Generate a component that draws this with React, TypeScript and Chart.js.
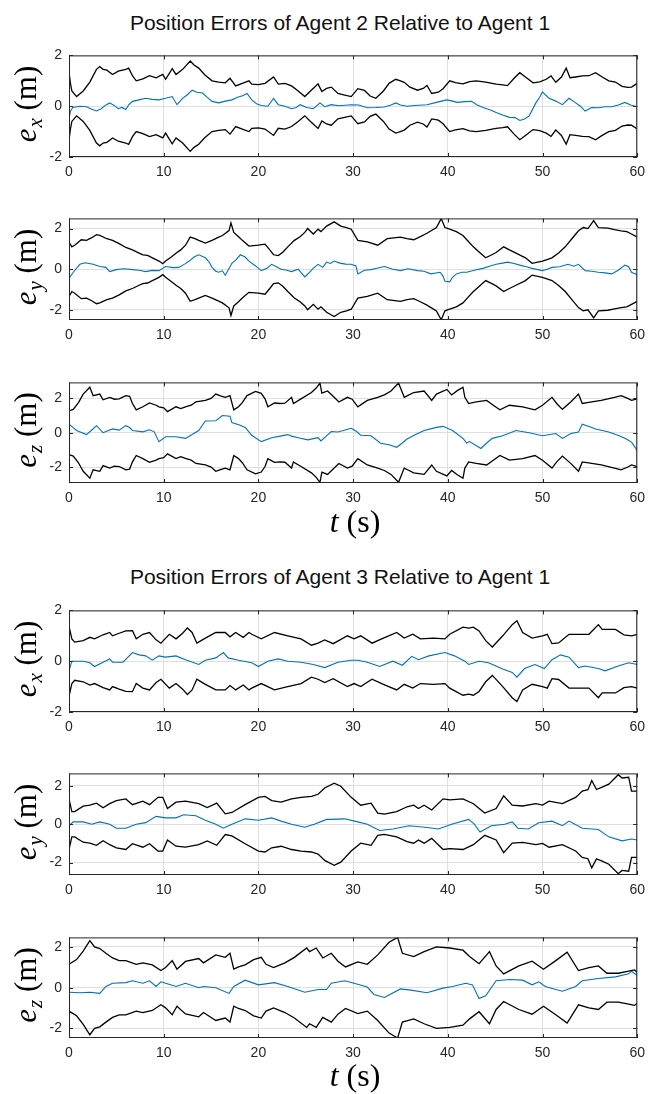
import React, { useEffect, useRef } from "react";
import { Chart, registerables } from "chart.js";

Chart.register(...registerables);

type Pts = [number, number][];

// ---------- tick labels & titles ----------
const X_TICKS = [0, 10, 20, 30, 40, 50, 60];
const Y_TICKS = [-2, 0, 2];
const TITLE_AGENT2 = "Position Errors of Agent 2 Relative to Agent 1";
const TITLE_AGENT3 = "Position Errors of Agent 3 Relative to Agent 1";

// ---------- Agent 2, e_x ----------
const A2X_UPPER: Pts = [[0,1.35],[0.15,0.9],[0.3,0.6],[0.8,0.38],[1.5,0.6],[2.2,0.95],[2.9,1.45],[3.25,1.56],[3.6,1.45],[4.0,1.42],[4.6,1.25],[5.2,1.38],[6.0,1.45],[6.3,1.5],[6.7,1.2],[7.1,1.0],[7.8,1.08],[8.5,1.2],[9.2,1.12],[9.9,1.25],[10.2,1.06],[10.9,1.48],[11.3,1.25],[12.0,1.45],[12.8,1.78],[13.2,1.62],[13.7,1.5],[14.3,1.25],[15.1,1.0],[15.8,0.95],[16.5,0.92],[17.0,1.1],[17.6,0.8],[18.3,0.9],[19.0,1.0],[19.3,0.87],[20.0,0.85],[20.7,0.9],[21.6,1.15],[22.1,0.87],[22.8,0.9],[23.5,0.8],[24.2,0.6],[24.9,0.38],[25.5,0.6],[26.3,0.88],[26.7,0.58],[27.2,0.7],[27.7,0.75],[28.4,0.5],[29.0,0.45],[29.8,0.38],[30.5,0.69],[31.2,0.62],[31.8,0.4],[32.4,0.31],[33.2,0.6],[33.8,0.9],[34.5,1.06],[35.0,1.0],[35.4,0.94],[36.0,0.75],[36.8,0.63],[37.4,0.7],[37.8,0.82],[38.3,0.5],[39.0,0.55],[39.5,0.69],[40.2,1.0],[40.8,0.93],[41.6,0.88],[42.3,0.97],[43.0,1.0],[44.0,0.95],[45.1,0.87],[45.8,0.84],[46.3,0.81],[47.0,1.1],[47.6,1.32],[48.2,1.15],[49.0,0.92],[49.7,0.96],[50.4,1.06],[50.9,1.19],[51.4,0.94],[52.0,1.15],[52.5,1.5],[52.9,1.12],[53.5,1.15],[54.2,1.19],[54.9,1.2],[55.6,1.32],[56.3,1.15],[57.0,1.0],[57.7,0.95],[58.4,0.78],[59.0,0.74],[59.4,0.75],[60.0,0.9]];
const A2X_LOWER: Pts = [[0,-1.35],[0.15,-0.9],[0.3,-0.6],[0.8,-0.38],[1.5,-0.6],[2.2,-0.95],[2.9,-1.45],[3.25,-1.56],[3.6,-1.45],[4.0,-1.42],[4.6,-1.25],[5.2,-1.38],[6.0,-1.45],[6.3,-1.5],[6.7,-1.2],[7.1,-1.0],[7.8,-1.08],[8.5,-1.2],[9.2,-1.12],[9.9,-1.25],[10.2,-1.06],[10.9,-1.48],[11.3,-1.25],[12.0,-1.45],[12.8,-1.78],[13.2,-1.62],[13.7,-1.5],[14.3,-1.25],[15.1,-1.0],[15.8,-0.95],[16.5,-0.92],[17.0,-1.1],[17.6,-0.8],[18.3,-0.9],[19.0,-1.0],[19.3,-0.87],[20.0,-0.85],[20.7,-0.9],[21.6,-1.15],[22.1,-0.87],[22.8,-0.9],[23.5,-0.8],[24.2,-0.6],[24.9,-0.38],[25.5,-0.6],[26.3,-0.88],[26.7,-0.58],[27.2,-0.7],[27.7,-0.75],[28.4,-0.5],[29.0,-0.45],[29.8,-0.38],[30.5,-0.69],[31.2,-0.62],[31.8,-0.4],[32.4,-0.31],[33.2,-0.6],[33.8,-0.9],[34.5,-1.06],[35.0,-1.0],[35.4,-0.94],[36.0,-0.75],[36.8,-0.63],[37.4,-0.7],[37.8,-0.82],[38.3,-0.5],[39.0,-0.55],[39.5,-0.69],[40.2,-1.0],[40.8,-0.93],[41.6,-0.88],[42.3,-0.97],[43.0,-1.0],[44.0,-0.95],[45.1,-0.87],[45.8,-0.84],[46.3,-0.81],[47.0,-1.1],[47.6,-1.32],[48.2,-1.15],[49.0,-0.92],[49.7,-0.96],[50.4,-1.06],[50.9,-1.19],[51.4,-0.94],[52.0,-1.15],[52.5,-1.5],[52.9,-1.12],[53.5,-1.15],[54.2,-1.19],[54.9,-1.2],[55.6,-1.32],[56.3,-1.15],[57.0,-1.0],[57.7,-0.95],[58.4,-0.78],[59.0,-0.74],[59.4,-0.75],[60.0,-0.9]];
const A2X_ERR: Pts = [[0,-0.5],[0.15,-0.2],[0.4,-0.05],[1.15,0],[1.85,-0.02],[2.4,-0.12],[2.9,-0.19],[3.4,-0.1],[3.9,0.05],[4.3,0.13],[4.8,0.02],[5.2,-0.1],[5.6,-0.05],[6.0,-0.13],[6.3,0.05],[6.7,0.19],[7.4,0.25],[8.1,0.31],[8.8,0.27],[9.5,0.25],[10.2,0.31],[10.9,0.38],[11.4,0.06],[12.0,0.31],[12.5,0.45],[13.0,0.63],[13.5,0.55],[14.1,0.52],[14.6,0.35],[15.1,0.19],[15.8,0.13],[16.5,0.2],[17.2,0.25],[17.8,0.35],[18.4,0.42],[18.8,0.5],[19.3,0.25],[19.8,0.1],[20.3,0.03],[21.0,0.0],[21.6,0.31],[22.1,0.06],[22.8,0.0],[23.5,-0.1],[24.0,-0.05],[24.4,0.06],[25.1,-0.05],[25.8,-0.1],[26.5,0.13],[27.0,-0.02],[27.7,0.06],[28.5,0.02],[29.8,0.06],[30.6,0.05],[31.5,-0.06],[32.4,-0.05],[33.3,-0.03],[34.0,0.05],[34.5,0.13],[35.0,0.05],[35.7,0.0],[36.5,0.03],[37.8,0.06],[38.8,0.15],[39.9,0.25],[40.5,0.2],[41.0,0.15],[41.8,0.18],[42.5,0.19],[43.1,0.05],[43.8,-0.06],[44.5,-0.15],[45.1,-0.25],[45.8,-0.35],[46.5,-0.44],[47.1,-0.45],[47.6,-0.56],[48.1,-0.5],[48.6,-0.38],[49.3,0.13],[49.7,0.35],[50.0,0.56],[50.3,0.45],[50.7,0.31],[51.4,0.2],[52.1,0.06],[52.8,0.31],[53.5,0.13],[54.0,0.0],[54.5,-0.19],[55.2,-0.05],[55.9,-0.06],[56.6,-0.02],[57.3,-0.02],[58.0,0.05],[58.7,0.15],[59.3,0.05],[60.0,-0.02]];

// ---------- Agent 2, e_y ----------
const A2Y_UPPER: Pts = [[0,1.34],[0.3,1.1],[0.6,1.18],[1.3,1.45],[1.85,1.42],[2.4,1.55],[2.9,1.7],[3.25,1.66],[4.0,1.5],[4.6,1.42],[5.3,1.26],[6.0,1.07],[6.7,0.95],[7.4,0.79],[7.8,0.71],[8.3,0.68],[8.8,0.56],[9.5,0.4],[9.9,0.27],[10.2,0.4],[10.8,0.6],[11.3,0.79],[11.8,0.95],[12.3,1.18],[12.8,1.58],[13.3,1.5],[13.7,1.42],[14.4,1.29],[15.1,1.42],[15.7,1.55],[16.2,1.66],[16.9,1.9],[17.1,2.28],[17.4,1.81],[17.9,1.6],[18.3,1.42],[19.0,1.14],[20.0,1.18],[20.7,1.23],[21.2,0.95],[21.6,0.71],[22.1,0.67],[22.6,0.85],[23.1,1.1],[23.8,1.42],[24.4,1.6],[24.9,1.81],[25.2,2.0],[25.8,1.73],[26.3,1.97],[26.6,1.85],[27.2,2.12],[28.0,2.33],[28.7,2.12],[29.3,2.05],[29.8,1.97],[30.5,1.42],[31.5,1.34],[32.6,1.18],[33.6,1.5],[35.0,1.58],[35.7,1.5],[36.4,1.45],[37.1,1.6],[37.8,1.77],[38.8,2.05],[39.3,2.49],[39.7,2.05],[40.2,1.97],[40.9,1.85],[41.6,1.66],[42.1,1.4],[42.7,1.1],[43.3,0.85],[44.0,0.56],[44.6,0.7],[45.1,0.82],[45.9,1.1],[46.5,0.95],[47.2,0.79],[48.2,0.56],[48.9,0.29],[50.0,0.4],[51.0,0.56],[51.7,0.8],[52.4,1.1],[53.1,1.5],[53.8,1.89],[54.3,2.05],[54.8,2.0],[55.4,2.39],[55.9,2.05],[56.9,2.02],[57.6,1.95],[58.3,1.89],[58.9,1.85],[59.4,1.73],[60.0,1.58]];
const A2Y_LOWER: Pts = [[0,-1.34],[0.3,-1.1],[0.6,-1.18],[1.3,-1.45],[1.85,-1.42],[2.4,-1.55],[2.9,-1.7],[3.25,-1.66],[4.0,-1.5],[4.6,-1.42],[5.3,-1.26],[6.0,-1.07],[6.7,-0.95],[7.4,-0.79],[7.8,-0.71],[8.3,-0.68],[8.8,-0.56],[9.5,-0.4],[9.9,-0.27],[10.2,-0.4],[10.8,-0.6],[11.3,-0.79],[11.8,-0.95],[12.3,-1.18],[12.8,-1.58],[13.3,-1.5],[13.7,-1.42],[14.4,-1.29],[15.1,-1.42],[15.7,-1.55],[16.2,-1.66],[16.9,-1.9],[17.1,-2.28],[17.4,-1.81],[17.9,-1.6],[18.3,-1.42],[19.0,-1.14],[20.0,-1.18],[20.7,-1.23],[21.2,-0.95],[21.6,-0.71],[22.1,-0.67],[22.6,-0.85],[23.1,-1.1],[23.8,-1.42],[24.4,-1.6],[24.9,-1.81],[25.2,-2.0],[25.8,-1.73],[26.3,-1.97],[26.6,-1.85],[27.2,-2.12],[28.0,-2.33],[28.7,-2.12],[29.3,-2.05],[29.8,-1.97],[30.5,-1.42],[31.5,-1.34],[32.6,-1.18],[33.6,-1.5],[35.0,-1.58],[35.7,-1.5],[36.4,-1.45],[37.1,-1.6],[37.8,-1.77],[38.8,-2.05],[39.3,-2.49],[39.7,-2.05],[40.2,-1.97],[40.9,-1.85],[41.6,-1.66],[42.1,-1.4],[42.7,-1.1],[43.3,-0.85],[44.0,-0.56],[44.6,-0.7],[45.1,-0.82],[45.9,-1.1],[46.5,-0.95],[47.2,-0.79],[48.2,-0.56],[48.9,-0.29],[50.0,-0.4],[51.0,-0.56],[51.7,-0.8],[52.4,-1.1],[53.1,-1.5],[53.8,-1.89],[54.3,-2.05],[54.8,-2.0],[55.4,-2.39],[55.9,-2.05],[56.9,-2.02],[57.6,-1.95],[58.3,-1.89],[58.9,-1.85],[59.4,-1.73],[60.0,-1.58]];
const A2Y_ERR: Pts = [[0,-0.46],[0.45,-0.15],[1.15,0.24],[1.7,0.32],[2.55,0.24],[3.25,0.13],[3.9,0.09],[4.3,-0.12],[5.0,-0.02],[5.8,0.02],[6.7,-0.02],[7.4,-0.05],[8.1,-0.12],[8.8,-0.06],[9.5,-0.07],[10.2,0.13],[11.0,0.08],[11.6,0.09],[12.2,0.25],[12.7,0.4],[13.2,0.6],[13.7,0.71],[14.4,0.56],[14.8,0.35],[15.1,0.09],[15.5,-0.1],[15.8,-0.15],[16.2,-0.08],[16.5,-0.3],[16.8,-0.05],[17.2,0.29],[17.6,0.45],[18.1,0.71],[18.6,0.6],[19.0,0.4],[19.7,0.16],[20.3,-0.07],[20.9,0.05],[21.4,0.24],[22.0,0.1],[22.4,0.0],[23.0,-0.05],[23.5,-0.12],[24.2,0.0],[24.9,-0.38],[25.3,-0.2],[25.8,0.05],[26.3,0.24],[26.8,0.09],[27.2,0.35],[27.6,0.28],[28.0,0.4],[28.6,0.3],[29.2,0.25],[29.8,0.24],[30.3,0.16],[30.5,-0.23],[31.2,-0.05],[31.9,-0.02],[32.5,0.05],[33.3,0.13],[34.2,0.0],[35.0,-0.07],[35.8,0.02],[36.8,-0.07],[37.5,-0.1],[38.2,-0.23],[39.2,-0.15],[39.5,-0.35],[39.7,-0.59],[40.2,-0.62],[40.5,-0.4],[40.9,-0.23],[41.5,-0.15],[42.0,-0.15],[42.8,-0.05],[43.7,0.04],[44.4,0.15],[45.1,0.24],[45.8,0.3],[46.3,0.35],[47.0,0.28],[47.6,0.2],[48.3,0.12],[48.9,0.04],[50.0,-0.07],[50.5,0.0],[51.0,0.09],[51.8,0.12],[52.7,0.24],[53.3,0.15],[53.8,0.24],[54.5,-0.07],[55.2,-0.1],[55.9,-0.15],[56.6,-0.18],[57.3,-0.23],[58.0,-0.05],[58.7,0.2],[59.1,0.12],[59.4,-0.15],[60.0,-0.27]];

// ---------- Agent 2, e_z ----------
const A2Z_UPPER: Pts = [[0,1.27],[0.45,1.36],[1.0,1.75],[1.5,2.25],[2.2,2.65],[2.55,2.16],[3.25,2.25],[3.6,1.92],[4.3,2.06],[4.8,1.95],[5.3,1.97],[6.0,2.16],[6.4,2.12],[6.7,1.7],[7.1,1.33],[7.8,1.51],[8.5,1.73],[9.2,1.6],[9.5,1.51],[10.0,1.45],[10.4,1.23],[11.3,1.51],[11.8,1.4],[12.3,1.5],[12.9,1.6],[13.4,1.79],[14.4,1.88],[15.0,2.0],[15.5,2.25],[16.0,2.15],[16.5,2.06],[17.0,2.16],[17.4,1.33],[17.9,1.51],[18.3,1.75],[18.8,2.16],[19.7,2.4],[20.3,2.29],[20.7,1.97],[21.0,1.51],[21.7,1.73],[22.3,1.7],[22.8,1.72],[23.5,2.06],[23.7,1.7],[24.5,1.97],[25.6,2.34],[26.1,2.6],[26.5,2.89],[26.7,2.3],[27.3,2.43],[28.0,2.06],[28.5,1.79],[29.4,2.06],[29.9,1.95],[30.5,1.51],[31.5,1.88],[32.6,2.06],[33.3,2.2],[34.0,2.43],[34.8,2.89],[35.4,2.06],[35.9,2.2],[36.4,2.34],[37.5,2.43],[38.3,1.88],[38.8,2.25],[39.9,2.52],[40.4,2.2],[41.0,2.45],[41.6,2.65],[41.8,2.06],[42.2,1.7],[43.0,1.79],[44.1,1.88],[44.8,1.6],[45.5,1.33],[46.5,1.6],[47.9,1.51],[49.2,1.33],[50.0,1.6],[51.0,2.06],[51.5,1.7],[52.1,1.36],[53.0,1.8],[53.8,2.25],[54.2,1.7],[55.2,1.79],[56.2,1.88],[57.6,2.06],[58.3,2.16],[59.0,2.0],[59.4,1.88],[60.0,1.97]];
const A2Z_LOWER: Pts = [[0,-1.27],[0.45,-1.36],[1.0,-1.75],[1.5,-2.25],[2.2,-2.65],[2.55,-2.16],[3.25,-2.25],[3.6,-1.92],[4.3,-2.06],[4.8,-1.95],[5.3,-1.97],[6.0,-2.16],[6.4,-2.12],[6.7,-1.7],[7.1,-1.33],[7.8,-1.51],[8.5,-1.73],[9.2,-1.6],[9.5,-1.51],[10.0,-1.45],[10.4,-1.23],[11.3,-1.51],[11.8,-1.4],[12.3,-1.5],[12.9,-1.6],[13.4,-1.79],[14.4,-1.88],[15.0,-2.0],[15.5,-2.25],[16.0,-2.15],[16.5,-2.06],[17.0,-2.16],[17.4,-1.33],[17.9,-1.51],[18.3,-1.75],[18.8,-2.16],[19.7,-2.4],[20.3,-2.29],[20.7,-1.97],[21.0,-1.51],[21.7,-1.73],[22.3,-1.7],[22.8,-1.72],[23.5,-2.06],[23.7,-1.7],[24.5,-1.97],[25.6,-2.34],[26.1,-2.6],[26.5,-2.89],[26.7,-2.3],[27.3,-2.43],[28.0,-2.06],[28.5,-1.79],[29.4,-2.06],[29.9,-1.95],[30.5,-1.51],[31.5,-1.88],[32.6,-2.06],[33.3,-2.2],[34.0,-2.43],[34.8,-2.89],[35.4,-2.06],[35.9,-2.2],[36.4,-2.34],[37.5,-2.43],[38.3,-1.88],[38.8,-2.25],[39.9,-2.52],[40.4,-2.2],[41.0,-2.45],[41.6,-2.65],[41.8,-2.06],[42.2,-1.7],[43.0,-1.79],[44.1,-1.88],[44.8,-1.6],[45.5,-1.33],[46.5,-1.6],[47.9,-1.51],[49.2,-1.33],[50.0,-1.6],[51.0,-2.06],[51.5,-1.7],[52.1,-1.36],[53.0,-1.8],[53.8,-2.25],[54.2,-1.7],[55.2,-1.79],[56.2,-1.88],[57.6,-2.06],[58.3,-2.16],[59.0,-2.0],[59.4,-1.88],[60.0,-1.97]];
const A2Z_ERR: Pts = [[0,0.5],[0.8,0.13],[1.85,-0.11],[2.5,0.2],[2.9,0.41],[3.6,0.0],[4.6,0.22],[5.3,0.15],[6.0,0.41],[6.4,0.3],[6.7,0.13],[7.8,0.05],[8.5,0.17],[9.0,0.05],[9.5,-0.52],[10.2,-0.24],[11.3,-0.24],[12.3,-0.33],[13.0,-0.1],[13.7,0.13],[14.4,0.68],[15.5,0.7],[16.2,1.0],[17.0,0.96],[17.2,0.59],[18.0,0.45],[18.6,0.31],[19.3,-0.15],[20.3,-0.52],[21.4,-0.29],[22.3,-0.2],[23.1,-0.11],[23.5,-0.2],[24.2,-0.29],[25.2,-0.42],[26.3,-0.29],[26.6,-0.48],[27.7,0.07],[28.4,0.04],[29.8,0.26],[30.3,0.1],[30.8,-0.15],[31.9,-0.18],[32.9,-0.61],[33.8,-0.7],[34.6,-0.85],[35.2,-0.6],[35.7,-0.37],[36.6,-0.1],[37.5,0.13],[38.8,0.31],[39.5,0.37],[40.5,0.13],[41.6,-0.33],[42.0,-0.6],[42.3,-0.52],[43.5,-0.92],[44.1,-0.6],[44.7,-0.33],[45.8,-0.18],[47.2,0.13],[48.6,0.0],[50.0,-0.18],[51.4,-0.05],[52.1,-0.33],[53.0,-0.05],[53.8,0.04],[54.2,0.5],[55.0,0.35],[55.6,0.22],[57.0,0.04],[58.1,-0.18],[58.8,-0.35],[59.4,-0.55],[60.0,-1.03]];

// ---------- Agent 3, e_x ----------
const A3X_UPPER: Pts = [[0,1.38],[0.3,0.88],[0.6,0.75],[1.5,0.81],[2.2,0.94],[2.7,0.88],[3.6,1.04],[4.3,1.13],[4.6,1.0],[5.3,1.1],[6.0,1.19],[6.7,1.2],[7.1,0.88],[7.8,1.06],[8.5,1.13],[9.2,0.84],[9.7,0.71],[10.6,1.06],[11.3,0.88],[12.0,1.1],[12.5,1.31],[13.0,1.13],[13.5,0.71],[14.4,0.91],[15.5,1.13],[16.5,1.13],[17.0,0.96],[17.6,1.13],[18.4,0.94],[19.0,1.13],[19.3,1.06],[20.3,0.88],[21.7,1.13],[23.1,1.0],[24.5,0.88],[25.6,0.63],[26.3,0.71],[27.0,0.84],[27.9,0.69],[29.4,1.0],[30.1,0.88],[30.8,1.0],[32.0,0.71],[33.2,0.91],[34.6,1.13],[35.4,0.91],[36.3,1.06],[37.1,0.88],[38.5,0.91],[39.7,0.88],[40.2,1.06],[41.6,1.34],[42.2,1.3],[42.7,1.34],[43.3,1.19],[44.0,0.81],[44.7,0.56],[45.8,1.0],[46.8,1.44],[47.3,1.59],[47.9,1.13],[48.9,0.91],[50.0,1.0],[50.5,1.06],[51.0,0.69],[51.7,0.72],[52.8,1.06],[54.9,1.06],[55.9,1.44],[56.3,1.25],[57.7,1.25],[58.6,1.04],[59.4,1.0],[60.0,1.06]];
const A3X_LOWER: Pts = [[0,-1.38],[0.3,-0.88],[0.6,-0.75],[1.5,-0.81],[2.2,-0.94],[2.7,-0.88],[3.6,-1.04],[4.3,-1.13],[4.6,-1.0],[5.3,-1.1],[6.0,-1.19],[6.7,-1.2],[7.1,-0.88],[7.8,-1.06],[8.5,-1.13],[9.2,-0.84],[9.7,-0.71],[10.6,-1.06],[11.3,-0.88],[12.0,-1.1],[12.5,-1.31],[13.0,-1.13],[13.5,-0.71],[14.4,-0.91],[15.5,-1.13],[16.5,-1.13],[17.0,-0.96],[17.6,-1.13],[18.4,-0.94],[19.0,-1.13],[19.3,-1.06],[20.3,-0.88],[21.7,-1.13],[23.1,-1.0],[24.5,-0.88],[25.6,-0.63],[26.3,-0.71],[27.0,-0.84],[27.9,-0.69],[29.4,-1.0],[30.1,-0.88],[30.8,-1.0],[32.0,-0.71],[33.2,-0.91],[34.6,-1.13],[35.4,-0.91],[36.3,-1.06],[37.1,-0.88],[38.5,-0.91],[39.7,-0.88],[40.2,-1.06],[41.6,-1.34],[42.2,-1.3],[42.7,-1.34],[43.3,-1.19],[44.0,-0.81],[44.7,-0.56],[45.8,-1.0],[46.8,-1.44],[47.3,-1.59],[47.9,-1.13],[48.9,-0.91],[50.0,-1.0],[50.5,-1.06],[51.0,-0.69],[51.7,-0.72],[52.8,-1.06],[54.9,-1.06],[55.9,-1.44],[56.3,-1.25],[57.7,-1.25],[58.6,-1.04],[59.4,-1.0],[60.0,-1.06]];
const A3X_ERR: Pts = [[0,-0.38],[0.3,0.0],[1.5,0.0],[2.2,-0.06],[2.7,-0.21],[3.6,-0.04],[4.3,0.09],[4.6,-0.04],[5.7,-0.04],[6.7,0.34],[7.4,0.25],[8.1,0.21],[8.8,0.04],[9.5,0.21],[10.2,0.16],[11.3,0.21],[12.3,0.06],[13.7,-0.13],[14.4,0.04],[15.5,0.13],[16.3,0.34],[16.8,0.13],[17.9,0.04],[19.3,-0.06],[20.0,-0.21],[21.0,0.0],[22.1,0.09],[23.1,0.0],[24.5,-0.04],[25.8,-0.13],[27.0,-0.25],[28.4,-0.04],[29.8,0.04],[30.5,0.04],[31.5,-0.04],[32.8,-0.21],[34.2,0.0],[35.2,-0.16],[36.2,0.19],[36.9,0.06],[38.0,0.21],[39.7,0.34],[40.7,0.21],[41.8,0.0],[42.2,-0.13],[43.3,0.0],[44.3,-0.06],[45.8,-0.31],[46.8,-0.44],[47.3,-0.63],[48.1,-0.29],[49.2,-0.13],[50.2,-0.29],[51.0,0.06],[51.9,0.25],[52.8,0.16],[53.8,-0.25],[54.5,-0.19],[55.9,-0.29],[56.6,-0.38],[58.0,-0.19],[59.1,-0.06],[60.0,-0.13]];

// ---------- Agent 3, e_y ----------
const A3Y_UPPER: Pts = [[0,1.32],[0.3,0.66],[0.6,0.66],[1.5,0.94],[2.2,0.99],[2.9,1.1],[3.6,0.86],[4.3,1.07],[5.0,1.23],[6.0,1.32],[6.7,1.02],[7.8,1.2],[8.5,1.02],[9.4,1.4],[9.9,1.4],[10.4,0.82],[11.3,1.15],[12.3,1.2],[13.7,1.07],[14.6,0.87],[15.6,1.1],[16.5,0.54],[17.2,0.61],[18.6,1.02],[20.0,1.4],[20.7,1.45],[21.4,1.23],[22.4,1.15],[23.5,1.32],[24.5,1.4],[25.6,1.45],[26.3,1.56],[27.0,1.89],[28.0,2.14],[28.7,1.98],[29.8,1.4],[30.8,0.99],[31.9,1.1],[32.6,0.58],[33.3,0.53],[34.6,0.66],[35.7,0.91],[36.4,0.99],[36.9,0.82],[37.5,0.99],[38.3,0.74],[39.5,1.32],[40.2,1.27],[41.6,1.32],[42.7,1.07],[43.9,0.58],[45.1,0.82],[45.9,1.48],[46.8,0.99],[47.9,0.95],[49.3,1.07],[50.0,1.0],[50.7,1.2],[52.1,1.07],[53.5,1.4],[54.2,1.73],[54.8,1.8],[55.2,2.28],[55.7,1.81],[56.3,1.93],[57.0,2.09],[58.0,2.58],[58.4,2.41],[59.1,2.45],[59.4,1.73],[60.0,1.73]];
const A3Y_LOWER: Pts = [[0,-1.32],[0.3,-0.66],[0.6,-0.66],[1.5,-0.94],[2.2,-0.99],[2.9,-1.1],[3.6,-0.86],[4.3,-1.07],[5.0,-1.23],[6.0,-1.32],[6.7,-1.02],[7.8,-1.2],[8.5,-1.02],[9.4,-1.4],[9.9,-1.4],[10.4,-0.82],[11.3,-1.15],[12.3,-1.2],[13.7,-1.07],[14.6,-0.87],[15.6,-1.1],[16.5,-0.54],[17.2,-0.61],[18.6,-1.02],[20.0,-1.4],[20.7,-1.45],[21.4,-1.23],[22.4,-1.15],[23.5,-1.32],[24.5,-1.4],[25.6,-1.45],[26.3,-1.56],[27.0,-1.89],[28.0,-2.14],[28.7,-1.98],[29.8,-1.4],[30.8,-0.99],[31.9,-1.1],[32.6,-0.58],[33.3,-0.53],[34.6,-0.66],[35.7,-0.91],[36.4,-0.99],[36.9,-0.82],[37.5,-0.99],[38.3,-0.74],[39.5,-1.32],[40.2,-1.27],[41.6,-1.32],[42.7,-1.07],[43.9,-0.58],[45.1,-0.82],[45.9,-1.48],[46.8,-0.99],[47.9,-0.95],[49.3,-1.07],[50.0,-1.0],[50.7,-1.2],[52.1,-1.07],[53.5,-1.4],[54.2,-1.73],[54.8,-1.8],[55.2,-2.28],[55.7,-1.81],[56.3,-1.93],[57.0,-2.09],[58.0,-2.58],[58.4,-2.41],[59.1,-2.45],[59.4,-1.73],[60.0,-1.73]];
const A3Y_ERR: Pts = [[0,-0.08],[0.45,0.12],[1.5,0.12],[2.4,0.0],[3.25,0.12],[4.3,0.0],[5.0,-0.21],[6.0,-0.21],[7.1,0.0],[8.1,0.08],[9.2,0.41],[10.2,0.33],[11.3,0.33],[12.1,0.49],[13.4,0.44],[14.4,0.21],[15.5,0.0],[16.3,-0.21],[17.2,0.0],[18.6,0.28],[20.0,0.21],[21.4,0.33],[22.4,0.16],[23.5,0.0],[24.9,-0.16],[25.9,0.0],[27.2,0.25],[27.7,0.25],[29.1,0.28],[30.5,0.12],[31.5,0.0],[32.8,-0.33],[34.2,-0.25],[35.9,-0.08],[37.6,-0.16],[39.0,-0.25],[40.4,0.0],[42.2,0.25],[42.8,0.0],[43.4,-0.41],[44.6,-0.08],[46.0,0.0],[46.8,0.12],[47.4,-0.21],[48.5,-0.25],[49.6,0.08],[51.0,0.16],[52.1,-0.08],[52.8,0.16],[54.2,-0.21],[55.9,-0.28],[57.0,-0.66],[58.4,-0.87],[59.4,-0.77],[60.0,-0.82]];

// ---------- Agent 3, e_z ----------
const A3Z_UPPER: Pts = [[0,1.15],[0.8,1.38],[1.5,1.8],[2.2,2.31],[2.7,2.0],[3.25,1.92],[3.9,1.69],[4.6,1.46],[5.3,1.33],[6.0,1.33],[7.1,1.15],[7.8,1.22],[8.8,1.12],[9.7,0.84],[10.2,0.99],[10.9,1.33],[11.4,0.91],[12.3,1.29],[13.7,1.43],[14.2,1.22],[15.5,1.61],[16.5,1.49],[17.0,1.69],[17.4,0.91],[17.9,1.02],[18.6,1.12],[19.5,1.38],[20.3,1.49],[20.8,1.15],[21.6,0.99],[22.8,1.22],[23.8,1.49],[25.1,1.95],[25.4,1.77],[26.1,1.95],[26.8,1.46],[27.7,1.69],[28.4,1.3],[29.2,1.02],[30.5,1.27],[31.5,1.15],[32.6,1.61],[33.8,2.23],[34.7,2.47],[35.2,1.69],[36.4,1.53],[37.5,1.77],[38.8,2.0],[40.2,1.95],[41.6,1.84],[42.3,1.53],[43.3,1.18],[44.4,1.77],[45.1,1.07],[45.9,0.68],[47.5,1.07],[48.9,1.3],[50.1,0.91],[51.4,1.33],[52.6,1.74],[53.8,0.84],[54.9,0.99],[55.9,1.07],[56.8,0.71],[58.0,0.71],[59.1,0.81],[59.7,0.87],[60.0,0.76]];
const A3Z_LOWER: Pts = [[0,-1.15],[0.8,-1.38],[1.5,-1.8],[2.2,-2.31],[2.7,-2.0],[3.25,-1.92],[3.9,-1.69],[4.6,-1.46],[5.3,-1.33],[6.0,-1.33],[7.1,-1.15],[7.8,-1.22],[8.8,-1.12],[9.7,-0.84],[10.2,-0.99],[10.9,-1.33],[11.4,-0.91],[12.3,-1.29],[13.7,-1.43],[14.2,-1.22],[15.5,-1.61],[16.5,-1.49],[17.0,-1.69],[17.4,-0.91],[17.9,-1.02],[18.6,-1.12],[19.5,-1.38],[20.3,-1.49],[20.8,-1.15],[21.6,-0.99],[22.8,-1.22],[23.8,-1.49],[25.1,-1.95],[25.4,-1.77],[26.1,-1.95],[26.8,-1.46],[27.7,-1.69],[28.4,-1.3],[29.2,-1.02],[30.5,-1.27],[31.5,-1.15],[32.6,-1.61],[33.8,-2.23],[34.7,-2.47],[35.2,-1.69],[36.4,-1.53],[37.5,-1.77],[38.8,-2.0],[40.2,-1.95],[41.6,-1.84],[42.3,-1.53],[43.3,-1.18],[44.4,-1.77],[45.1,-1.07],[45.9,-0.68],[47.5,-1.07],[48.9,-1.3],[50.1,-0.91],[51.4,-1.33],[52.6,-1.74],[53.8,-0.84],[54.9,-0.99],[55.9,-1.07],[56.8,-0.71],[58.0,-0.71],[59.1,-0.81],[59.7,-0.87],[60.0,-0.76]];
const A3Z_ERR: Pts = [[0,-0.22],[1.15,-0.25],[2.2,-0.22],[3.25,-0.28],[3.9,0.06],[4.6,0.22],[6.0,0.25],[6.7,0.34],[7.8,0.22],[8.5,0.34],[9.2,0.06],[9.7,0.29],[10.2,0.22],[11.3,0.06],[12.3,0.22],[13.7,0.0],[14.2,0.06],[15.5,0.0],[16.9,-0.28],[17.4,0.06],[18.6,0.37],[20.0,0.14],[21.7,0.25],[23.1,0.06],[24.9,-0.22],[26.3,-0.09],[27.2,-0.09],[27.7,0.22],[29.1,0.34],[30.1,0.22],[31.5,0.03],[32.2,-0.33],[33.3,-0.48],[35.0,-0.06],[36.1,-0.12],[37.8,-0.25],[39.5,-0.02],[40.5,0.06],[41.9,0.22],[42.6,0.14],[43.3,-0.53],[44.0,-0.4],[45.1,0.34],[46.5,0.4],[47.9,0.37],[48.9,0.14],[49.6,0.29],[50.3,0.06],[51.4,-0.09],[52.1,-0.17],[53.5,0.06],[54.2,0.34],[55.9,0.45],[57.7,0.53],[59.1,0.68],[59.4,0.81],[60.0,0.6]];

// ---------- layout (pixels) ----------
const PANELS = [
  { sub: "x", yMax: 2.0, upper: A2X_UPPER, lower: A2X_LOWER, err: A2X_ERR, top: 50, bottom: 157 },
  { sub: "y", yMax: 2.5, upper: A2Y_UPPER, lower: A2Y_LOWER, err: A2Y_ERR, top: 213, bottom: 320 },
  { sub: "z", yMax: 2.93, upper: A2Z_UPPER, lower: A2Z_LOWER, err: A2Z_ERR, top: 377, bottom: 483 },
  { sub: "x", yMax: 2.0, upper: A3X_UPPER, lower: A3X_LOWER, err: A3X_ERR, top: 605, bottom: 712 },
  { sub: "y", yMax: 2.65, upper: A3Y_UPPER, lower: A3Y_LOWER, err: A3Y_ERR, top: 768, bottom: 875 },
  { sub: "z", yMax: 2.47, upper: A3Z_UPPER, lower: A3Z_LOWER, err: A3Z_ERR, top: 932, bottom: 1038 },
];

const W = 652;
const PAD_TOP = 10;
const XAXIS_H = 30;
const PLOT_LEFT = 69;
const PLOT_RIGHT = 642;
const YAXIS_W = 30;
const AX_COLOR = "#262626";
const GRID_COLOR = "#dfdfdf";
const SANS = '"Liberation Sans", Arial, Helvetica, sans-serif';
const SERIF = '"Liberation Serif", "Times New Roman", serif';

const boxPlugin = {
  id: "matlabBox",
  afterDatasetsDraw(chart: any) {
    const { ctx, chartArea, scales } = chart;
    const { left, right, top, bottom } = chartArea;
    const L = 4;
    ctx.save();
    ctx.strokeStyle = AX_COLOR;
    ctx.lineWidth = 1;
    ctx.strokeRect(left + 0.5, top + 0.5, right - left - 1, bottom - top - 1);
    ctx.beginPath();
    X_TICKS.forEach((v) => {
      const px = Math.round(scales.x.getPixelForValue(v)) + 0.5;
      ctx.moveTo(px, bottom);
      ctx.lineTo(px, bottom - L);
      ctx.moveTo(px, top);
      ctx.lineTo(px, top + L);
    });
    Y_TICKS.forEach((v) => {
      const py = Math.round(scales.y.getPixelForValue(v)) + 0.5;
      ctx.moveTo(left, py);
      ctx.lineTo(left + L, py);
      ctx.moveTo(right, py);
      ctx.lineTo(right - L, py);
    });
    ctx.stroke();
    ctx.restore();
  },
};

const toXY = (pts: Pts) => pts.map(([x, y]) => ({ x, y }));

function Panel(props: { upper: Pts; lower: Pts; err: Pts; yMax: number; top: number; bottom: number }) {
  const ref = useRef<HTMLCanvasElement>(null);
  const plotH = props.bottom - props.top;
  const H = PAD_TOP + plotH + XAXIS_H;
  useEffect(() => {
    const tickFont = { family: SANS, size: 14 };
    const chart = new Chart(ref.current as HTMLCanvasElement, {
      type: "line",
      data: {
        datasets: [
          { data: toXY(props.upper), borderColor: "#000000", borderWidth: 1.3, pointRadius: 0, fill: false, tension: 0 },
          { data: toXY(props.lower), borderColor: "#000000", borderWidth: 1.3, pointRadius: 0, fill: false, tension: 0 },
          { data: toXY(props.err), borderColor: "#0072BD", borderWidth: 1.1, pointRadius: 0, fill: false, tension: 0 },
        ],
      },
      options: {
        animation: false,
        responsive: false,
        devicePixelRatio: 1,
        layout: { padding: { left: PLOT_LEFT - YAXIS_W, right: W - PLOT_RIGHT, top: PAD_TOP, bottom: 0 } },
        plugins: { legend: { display: false }, tooltip: { enabled: false }, title: { display: false } },
        scales: {
          x: {
            type: "linear",
            min: 0,
            max: 60,
            afterBuildTicks: (s: any) => { s.ticks = X_TICKS.map((v) => ({ value: v })); },
            afterFit: (s: any) => { s.height = XAXIS_H; },
            grid: { color: GRID_COLOR, lineWidth: 1, drawTicks: false },
            border: { display: false },
            ticks: { padding: 7, color: AX_COLOR, font: tickFont, maxRotation: 0, autoSkip: false },
          },
          y: {
            type: "linear",
            min: -props.yMax,
            max: props.yMax,
            afterBuildTicks: (s: any) => { s.ticks = Y_TICKS.map((v) => ({ value: v })); },
            afterFit: (s: any) => { s.width = YAXIS_W; },
            grid: { color: GRID_COLOR, lineWidth: 1, drawTicks: false },
            border: { display: false },
            ticks: { padding: 7, color: AX_COLOR, font: tickFont },
          },
        },
      } as any,
      plugins: [boxPlugin],
    });
    return () => chart.destroy();
  }, []);
  return (
    <canvas
      ref={ref}
      width={W}
      height={H}
      style={{ position: "absolute", left: 0, top: props.top - PAD_TOP, width: W, height: H }}
    />
  );
}

function YLabel({ sub, cy }: { sub: string; cy: number }) {
  return (
    <div
      style={{
        position: "absolute",
        left: 27,
        top: cy,
        transform: "translate(-50%, -50%) rotate(-90deg)",
        whiteSpace: "nowrap",
        fontFamily: SERIF,
        fontSize: 31,
        lineHeight: "31px",
        color: "#000",
      }}
    >
      <span style={{ fontStyle: "italic" }}>e</span>
      <span style={{ fontStyle: "italic", fontSize: 21, position: "relative", top: 6, marginLeft: 1 }}>{sub}</span>
      <span> (m)</span>
    </div>
  );
}

function XLabel({ top }: { top: number }) {
  return (
    <div
      style={{
        position: "absolute",
        left: 355,
        top,
        transform: "translateX(-50%)",
        whiteSpace: "nowrap",
        fontFamily: SERIF,
        fontSize: 32,
        lineHeight: "32px",
        color: "#000",
      }}
    >
      <span style={{ fontStyle: "italic" }}>t</span>
      <span> (s)</span>
    </div>
  );
}

function Title({ text, top }: { text: string; top: number }) {
  return (
    <div
      style={{
        position: "absolute",
        left: 340,
        top,
        transform: "translateX(-50%)",
        whiteSpace: "nowrap",
        fontFamily: SANS,
        fontSize: 21,
        lineHeight: "24px",
        color: "#111",
      }}
    >
      {text}
    </div>
  );
}

export default function App() {
  return (
    <div style={{ position: "fixed", left: 0, top: 0, width: W, height: 1094, background: "#fff", overflow: "hidden" }}>
      {PANELS.map((p, i) => (
        <Panel key={i} upper={p.upper} lower={p.lower} err={p.err} yMax={p.yMax} top={p.top} bottom={p.bottom} />
      ))}
      {PANELS.map((p, i) => (
        <YLabel key={"yl" + i} sub={p.sub} cy={(p.top + p.bottom) / 2} />
      ))}
      <Title text={TITLE_AGENT2} top={11} />
      <Title text={TITLE_AGENT3} top={565} />
      <XLabel top={505} />
      <XLabel top={1059} />
    </div>
  );
}
